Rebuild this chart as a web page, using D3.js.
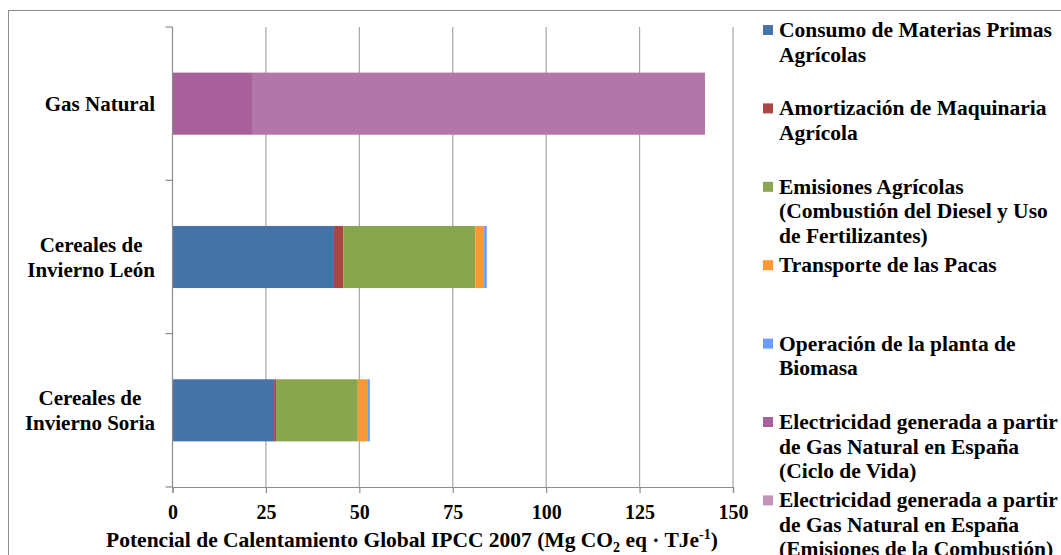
<!DOCTYPE html>
<html>
<head>
<meta charset="utf-8">
<script src="https://cdn.jsdelivr.net/npm/d3@7"></script>
<style>
  body { margin: 0; background: #fff; }
  text { font-family: "Liberation Serif", "Times New Roman", serif; font-weight: bold; fill: #000; }
</style>
</head>
<body>
<div id="chart-area"></div>
<script>
// categories, top to bottom
var categories = [
    ["Gas Natural"],
    ["Cereales de", "Invierno León"],
    ["Cereales de", "Invierno Soria"]
];
var seriesNames = [
    ["Consumo de Materias Primas", "Agrícolas"],
    ["Amortización de Maquinaria", "Agrícola"],
    ["Emisiones Agrícolas", "(Combustión del Diesel y Uso", "de Fertilizantes)"],
    ["Transporte de las Pacas"],
    ["Operación de la planta de", "Biomasa"],
    ["Electricidad generada a partir", "de Gas Natural en España", "(Ciclo de Vida)"],
    ["Electricidad generada a partir", "de Gas Natural en España", "(Emisiones de la Combustión)"]
];
var colors = ["#4673a7", "#aa4644", "#89a54e", "#fd9933", "#6a9cff", "#a8609b", "#b276a8"];
var legendColors = ["#4673a7", "#aa4644", "#89a54e", "#fd9933", "#6a9cff", "#a8609b", "#c393bb"];

// values per series, in category order
var materias   = [0, 43.2, 27.2];
var maquinaria = [0, 2.5, 0.5];
var emisiones  = [0, 35.3, 21.9];
var transporte = [0, 2.4, 2.5];
var operacion  = [0, 0.7, 0.7];
var gasCiclo   = [21.5, 0, 0];
var gasComb    = [121.0, 0, 0];
var xTicks = [0, 25, 50, 75, 100, 125, 150];

var series = [materias, maquinaria, emisiones, transporte, operacion, gasCiclo, gasComb];

var W = 1061, H = 555;
var svg = d3.select("#chart-area")
    .append("svg")
    .attr("width", W)
    .attr("height", H);

// outer frame
svg.append("rect")
    .attr("x", 8.5).attr("y", 10.5)
    .attr("width", 1100).attr("height", 600)
    .attr("fill", "none")
    .attr("stroke", "#8c8c8c")
    .attr("stroke-width", 1);

var plotL = 172.5, plotR = 733, plotT = 27, plotB = 487;

var x = d3.scaleLinear().domain([0, 150]).range([plotL, plotR]);
var y = d3.scaleBand()
    .domain(d3.range(categories.length))
    .range([plotT, plotB])
    .paddingInner(0.595)
    .paddingOuter(0.2975);

// gridlines
svg.selectAll(".grid")
    .data(xTicks.slice(1))
    .enter().append("line")
    .attr("x1", d => x(d)).attr("x2", d => x(d))
    .attr("y1", plotT).attr("y2", plotB)
    .attr("stroke", "#a6a6a6")
    .attr("stroke-width", 1.2);

// stacked bars
var stackData = categories.map((c, i) => {
    var o = { i: i };
    series.forEach((s, k) => { o["s" + k] = s[i]; });
    return o;
});
var stack = d3.stack().keys(series.map((s, k) => "s" + k));
var layers = stack(stackData);

svg.selectAll(".layer")
    .data(layers)
    .enter().append("g")
    .attr("fill", (d, k) => colors[k])
    .selectAll("rect")
    .data(d => d)
    .enter().append("rect")
    .attr("x", d => x(d[0]))
    .attr("y", d => y(d.data.i))
    .attr("width", d => x(d[1]) - x(d[0]))
    .attr("height", y.bandwidth());

// y axis with ticks between categories
var yBounds = d3.range(categories.length + 1).map(i => plotT + i * (plotB - plotT) / categories.length);
svg.append("line")
    .attr("x1", plotL).attr("x2", plotL)
    .attr("y1", plotT).attr("y2", plotB)
    .attr("stroke", "#8c8c8c").attr("stroke-width", 1.2);
svg.selectAll(".ytick")
    .data(yBounds)
    .enter().append("line")
    .attr("x1", plotL - 7).attr("x2", plotL)
    .attr("y1", d => d).attr("y2", d => d)
    .attr("stroke", "#8c8c8c").attr("stroke-width", 1.2);

// x axis
var xAxis = d3.axisBottom(x).tickValues(xTicks).tickSize(6).tickPadding(12);
var gx = svg.append("g")
    .attr("transform", "translate(0," + plotB + ")")
    .call(xAxis);
gx.select(".domain").attr("stroke", "#8c8c8c").attr("stroke-width", 1.2);
gx.selectAll(".tick line").attr("stroke", "#8c8c8c").attr("stroke-width", 1.2);
gx.selectAll(".tick text")
    .attr("font-size", 20)
    .attr("font-family", "Liberation Serif")
    .attr("font-weight", "bold")
    .attr("fill", "#000");

// x axis title
var title = svg.append("text")
    .attr("x", 412)
    .attr("y", 547)
    .attr("text-anchor", "middle")
    .attr("font-size", 21.5);
title.append("tspan").text("Potencial de Calentamiento Global IPCC 2007 (Mg CO");
title.append("tspan").attr("font-size", 14).attr("dy", 5).text("2");
title.append("tspan").attr("dy", -5).text(" eq · TJe");
title.append("tspan").attr("font-size", 14).attr("dy", -8).text("-1");
title.append("tspan").attr("dy", 8).text(")");

// category labels, each block centred on its widest line, right edge at 155
var lineH = 25;
categories.forEach((lines, i) => {
    var cy = y(i) + y.bandwidth() / 2;
    var g = svg.append("g");
    var t = g.selectAll("text")
        .data(lines)
        .enter().append("text")
        .attr("font-size", 21)
        .attr("text-anchor", "middle")
        .attr("y", (d, j) => cy + (j - (lines.length - 1) / 2) * lineH + 7)
        .text(d => d);
    var maxW = d3.max(t.nodes(), n => n.getComputedTextLength());
    t.attr("x", 155 - maxW / 2);
});

// legend
var legX = 763, legTop = 30, slot = 78.4, legLine = 24.5;
seriesNames.forEach((lines, k) => {
    var cy = legTop + k * slot;
    svg.append("rect")
        .attr("x", legX).attr("y", cy - 5)
        .attr("width", 10).attr("height", 10)
        .attr("fill", legendColors[k]);
    svg.append("g").selectAll("text")
        .data(lines)
        .enter().append("text")
        .attr("x", legX + 16)
        .attr("y", (d, j) => cy + j * legLine + 7)
        .attr("font-size", 21.5)
        .text(d => d);
});
</script>
</body>
</html>
